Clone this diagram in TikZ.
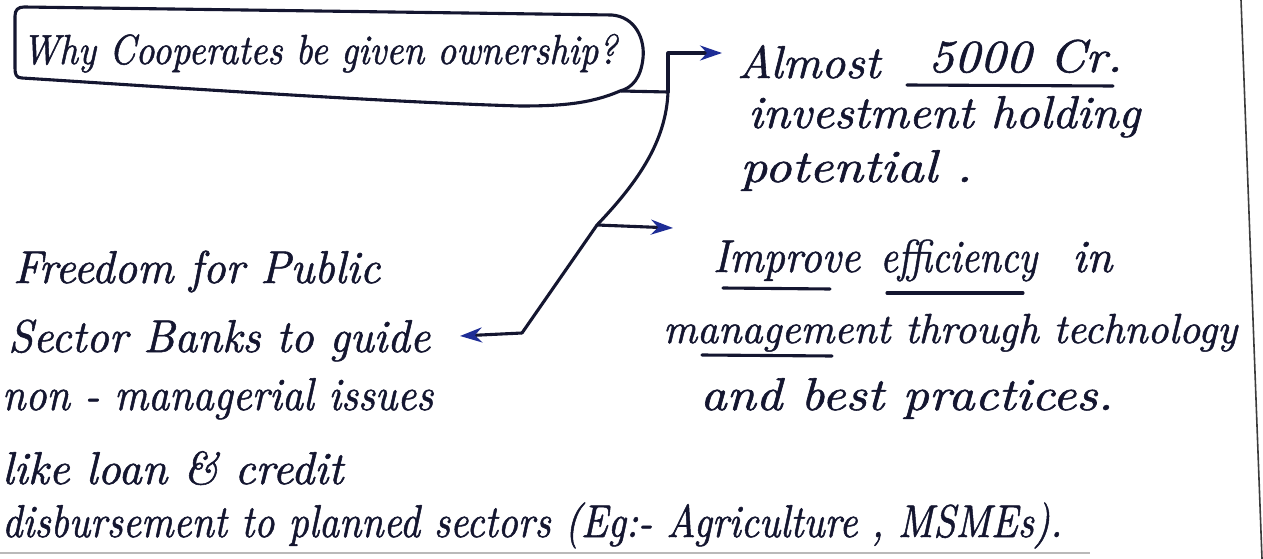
\documentclass[tikz,border=0pt]{standalone}
\usepackage{fontspec}
\usepackage{graphicx}
\usetikzlibrary{arrows.meta}
\newfontfamily\handfont[FakeBold=1.2]{lmroman10-italic.otf}
\definecolor{inkc}{RGB}{20,22,48}
\definecolor{tipc}{RGB}{30,45,150}
\definecolor{edgec}{RGB}{60,60,60}
\newcommand\fitw[2]{\resizebox{#1pt}{\height}{#2}}
\tikzset{
  pen/.style={draw=inkc, line width=3.1pt, line cap=round, line join=round},
  hand/.style={anchor=base west, inner sep=0pt, text=inkc, font=\handfont\fontsize{46}{54}\selectfont},
  qhand/.style={hand, font=\handfont\fontsize{42}{50}\selectfont},
  tipa/.style={-{Stealth[length=22pt,width=15pt,color=tipc]}},
}
\begin{document}
\begin{tikzpicture}[x=1pt,y=-1pt]
\fill[white] (0,0) rectangle (1263,559);
\useasboundingbox (0,0) rectangle (1263,559);

% question box
\draw[pen] (24,7) -- (612,15) .. controls (636,17) and (645,40) .. (643,58)
  .. controls (641,78) and (632,88) .. (620,91)
  .. controls (590,104) and (560,106) .. (520,106)
  .. controls (380,102) and (150,86) .. (22,78)
  .. controls (16,78) and (15,74) .. (15,68) -- (15,16)
  .. controls (15,10) and (18,7) .. (24,7) -- cycle;
\node[qhand] (q) at (22,64) {\fitw{595}{Why Cooperates be given ownership?}};

% top right block
\node[hand] (a1) at (737,78) {\fitw{143}{Almost}};
\node[hand] (a2) at (928,72) {\fitw{194}{5000 Cr.}};
\node[hand] (a3) at (748,128) {\fitw{392}{investment holding}};
\node[hand] (a4) at (740,182) {\fitw{232}{potential .}};
\draw[pen] (907,85) -- (1113,86);

% middle right block
\node[hand] (i1a) at (713,272) {\fitw{147}{Improve}};
\node[hand] (i1b) at (880,272) {\fitw{157}{efficiency}};
\node[hand] (i1c) at (1072,272) {\fitw{40}{in}};
\node[hand, font=\handfont\fontsize{42}{50}\selectfont] (i2) at (663,343) {\fitw{574}{management through technology}};
\node[hand] (i3) at (700,410) {\fitw{413}{and best practices.}};
\draw[pen] (723,288) -- (830,289);
\draw[pen] (887,293) -- (1023,293);
\draw[pen] (702,355) -- (832,356);

% left block
\node[hand] (f1) at (13,283) {\fitw{367}{Freedom for Public}};
\node[hand] (f2) at (8,352) {\fitw{422}{Sector Banks to guide}};
\node[hand] (f3) at (2,410) {\fitw{431}{non - managerial issues}};
\node[hand] (f4) at (2,484) {\fitw{341}{like loan \& credit}};
\node[hand] (f5) at (2,537) {\fitw{1060}{disbursement to planned sectors (Eg:- Agriculture , MSMEs).}};

% connectors
\coordinate (qo) at (621,91);
\coordinate (j) at (668,92);
\coordinate (k) at (597,225);
\coordinate (m) at (522,333);
\coordinate (ta) at (722,53);
\coordinate (ti) at (673,228);
\coordinate (tf) at (460,336);
\draw[pen] (qo) -- (j);
\draw[pen, tipa] (j) |- (ta);
\draw[pen] (j) .. controls (666,140) and (640,180) .. (k) -- (m);
\draw[pen, tipa] (m) -- (tf);
\draw[pen, tipa] (k) -- (ti);

% page edges
\draw[edgec, line width=1.6pt] (1241,0) -- (1262,559);
\draw[gray!55, line width=2.5pt] (0,553) -- (1090,553);
\end{tikzpicture}
\end{document}
